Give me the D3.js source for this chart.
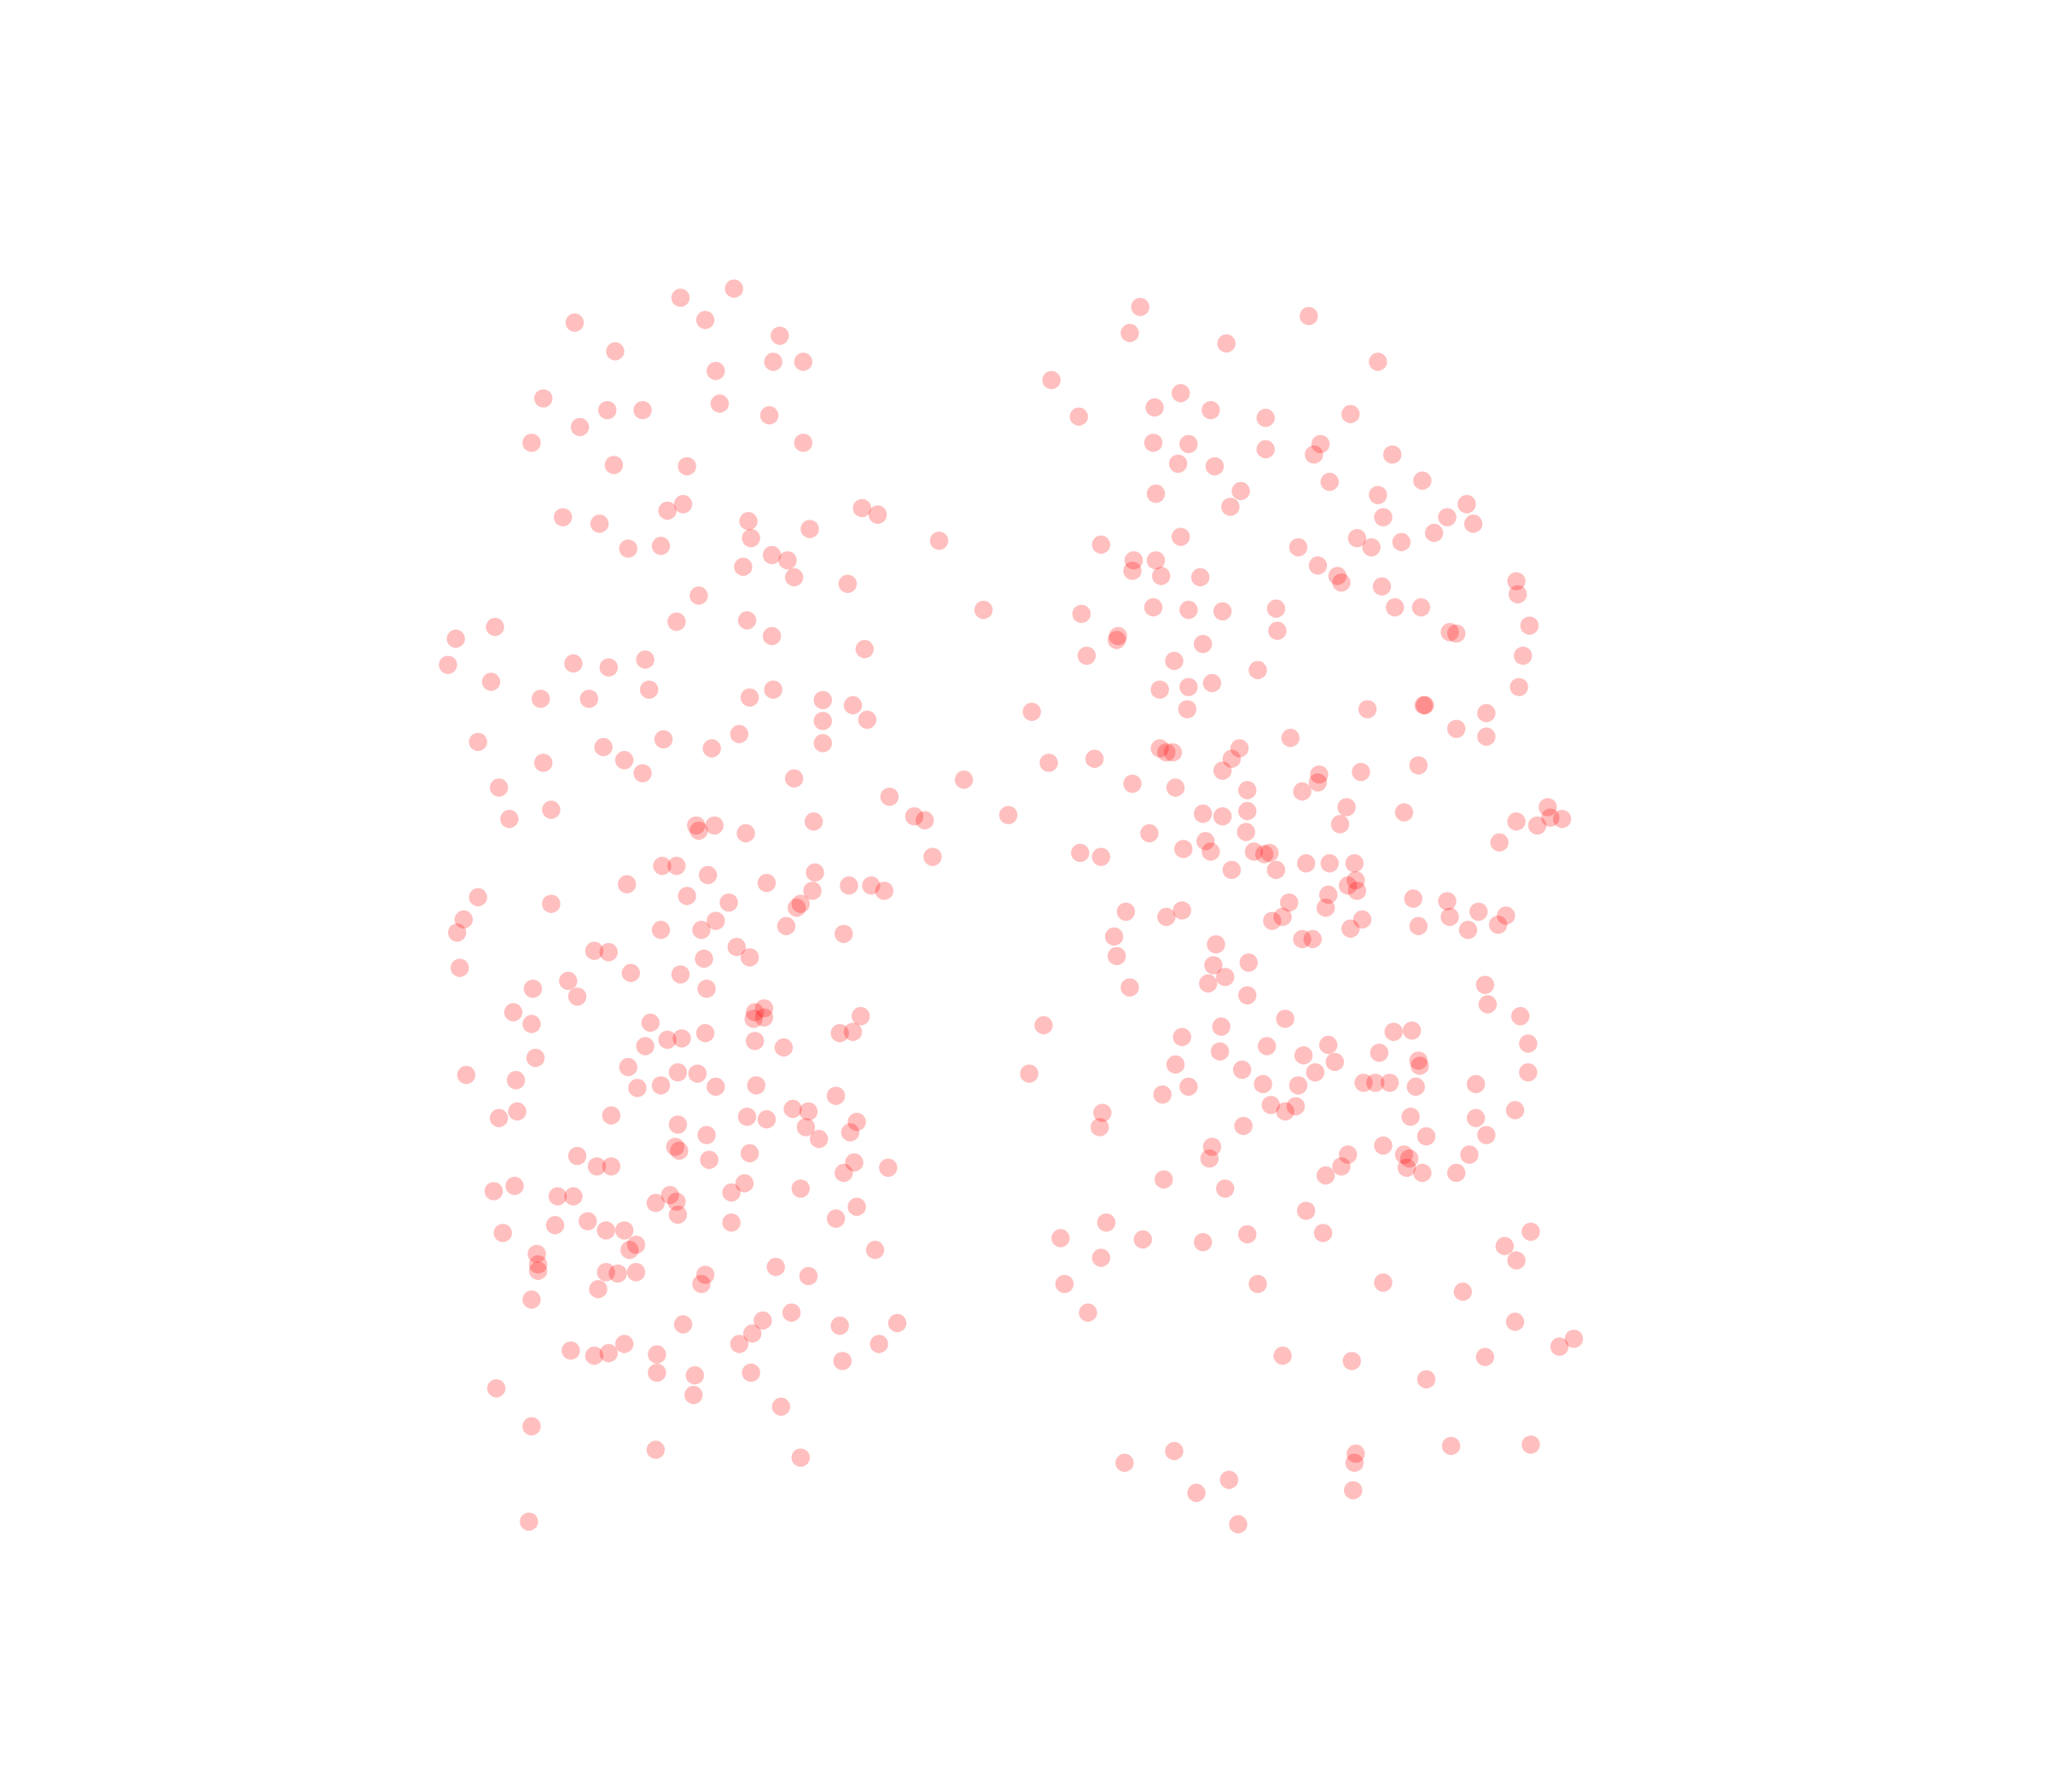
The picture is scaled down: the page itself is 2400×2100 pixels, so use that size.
<!DOCTYPE html>
<html>
<head>
<meta charset="utf-8">
<script src="https://cdn.jsdelivr.net/npm/d3@7"></script>
<style>html,body{margin:0;padding:0;background:#fff}svg{display:block}</style>
</head>
<body>
<script>
const leftGroup = [[440,247],[521,228],[562,221],[540,245],[597,257],[471,269],[592,277],[615,277],[548,284],[416,305],[465,314],[492,314],[551,309],[589,318],[444,327],[407,339],[615,339],[470,356],[526,357],[431,396],[459,401],[511,391],[523,386],[573,399],[575,412],[620,405],[660,389],[672,394],[719,414],[481,420],[506,418],[591,425],[603,429],[569,434],[608,442],[649,447],[535,456],[753,467],[518,476],[572,475],[591,487],[379,480],[349,489],[662,497],[343,509],[439,508],[466,511],[494,505],[376,522],[497,528],[414,535],[451,535],[574,534],[592,528],[630,536],[653,540],[630,552],[664,551],[566,562],[508,566],[366,568],[462,572],[545,573],[630,569],[478,582],[416,584],[492,592],[608,596],[738,597],[382,603],[681,610],[422,620],[390,627],[700,625],[708,628],[772,624],[623,629],[533,632],[547,632],[535,636],[571,638],[714,656],[507,663],[518,663],[542,670],[624,668],[480,677],[587,676],[650,678],[667,678],[677,682],[622,682],[526,686],[558,691],[366,687],[422,692],[613,692],[610,695],[355,704],[350,714],[548,705],[602,709],[537,712],[506,712],[646,715],[455,728],[466,729],[564,725],[574,733],[539,734],[352,741],[483,745],[521,746],[435,751],[408,757],[442,763],[541,757],[393,775],[407,784],[578,775],[585,772],[577,780],[585,779],[659,778],[498,783],[511,796],[522,795],[494,801],[540,791],[578,797],[600,802],[643,791],[653,790],[410,810],[481,817],[519,821],[534,822],[357,823],[395,827],[488,833],[506,831],[548,832],[579,831],[640,839],[396,851],[382,856],[468,854],[519,861],[572,855],[587,857],[607,849],[619,851],[617,863],[656,859],[651,867],[627,872],[541,869],[517,878],[520,881],[442,885],[457,893],[468,893],[543,888],[574,883],[654,890],[680,894],[646,898],[570,906],[613,910],[378,912],[394,908],[427,916],[439,916],[513,915],[502,921],[518,920],[560,913],[519,930],[656,924],[640,933],[425,938],[450,935],[464,942],[478,942],[560,936],[385,944],[487,953],[482,957],[411,960],[670,957],[412,968],[412,973],[464,974],[473,975],[487,974],[594,970],[540,976],[537,983],[619,977],[458,987],[407,995],[606,1005],[584,1011],[523,1014],[643,1015],[687,1013],[576,1021],[566,1029],[478,1029],[673,1029],[437,1034],[455,1038],[466,1036],[503,1037],[645,1042],[503,1051],[532,1053],[575,1051],[380,1063],[531,1068],[598,1077],[407,1092],[502,1110],[613,1116],[405,1165]];
const rightGroup = [[873,235],[1002,242],[865,255],[939,263],[1055,277],[805,291],[904,301],[884,312],[927,314],[826,319],[969,320],[1034,317],[883,339],[910,340],[1011,340],[969,344],[1006,348],[1066,348],[902,355],[930,357],[1018,369],[1089,368],[885,378],[950,376],[942,388],[1055,379],[1123,386],[1059,396],[1108,396],[1128,401],[1098,408],[904,411],[1039,412],[1073,415],[843,417],[994,419],[1050,419],[868,429],[885,429],[867,437],[889,441],[1009,433],[919,442],[1024,441],[1027,446],[1058,449],[1161,445],[1162,455],[883,465],[910,467],[936,468],[977,466],[1068,465],[1088,465],[828,470],[978,483],[1171,479],[1110,484],[1115,485],[856,487],[855,490],[921,493],[832,502],[899,506],[1166,502],[963,513],[888,528],[910,526],[928,523],[1163,526],[909,543],[1047,543],[1091,540],[1090,540],[1138,546],[790,545],[1115,558],[1138,564],[988,565],[888,573],[893,576],[898,576],[949,573],[943,581],[838,581],[803,584],[936,590],[1086,586],[1042,591],[1010,593],[1009,599],[867,600],[900,603],[955,605],[997,606],[1031,618],[921,623],[936,625],[955,621],[1075,622],[1185,618],[1187,626],[1196,627],[1177,632],[1161,629],[1026,631],[954,637],[880,638],[923,644],[1148,645],[906,650],[927,652],[960,652],[968,654],[972,653],[827,653],[843,656],[1000,661],[1018,661],[1037,661],[977,666],[943,666],[1038,674],[1032,678],[1039,682],[1017,685],[1082,688],[1108,690],[987,691],[1015,695],[905,697],[862,698],[893,702],[982,702],[974,705],[1043,704],[1132,698],[1110,702],[1153,701],[1086,709],[1147,708],[1124,712],[1034,711],[853,717],[997,719],[1005,719],[931,723],[855,732],[929,739],[956,737],[938,748],[925,753],[865,756],[1137,754],[955,762],[1139,769],[984,780],[1164,778],[799,785],[935,786],[1067,790],[1081,789],[905,794],[970,801],[1017,800],[1170,799],[934,805],[998,808],[1056,806],[1086,812],[1087,816],[1022,813],[900,815],[951,819],[1007,821],[788,822],[1170,821],[967,830],[994,831],[1044,829],[1053,829],[1064,829],[1084,832],[1130,830],[910,832],[890,838],[973,846],[992,847],[984,851],[1160,850],[844,852],[1080,855],[1130,856],[952,862],[842,863],[1092,870],[1138,869],[928,878],[1059,877],[926,887],[1032,884],[1075,884],[1079,887],[1125,884],[1027,893],[1077,894],[1089,898],[1115,898],[1015,900],[891,903],[938,910],[1000,927],[847,936],[1172,943],[955,945],[1013,944],[812,948],[875,949],[921,951],[1152,954],[843,963],[1161,965],[815,983],[963,983],[1059,982],[1120,989],[833,1005],[1160,1012],[1205,1025],[1194,1031],[982,1038],[1137,1039],[1035,1042],[1092,1056],[899,1111],[1172,1106],[1111,1107],[1038,1113],[1037,1120],[861,1120],[941,1133],[916,1143],[1036,1141],[948,1167]];

const width = 2400, height = 2100;
const x = d3.scaleLinear().domain([0, 1568]).range([0, width]);
const y = d3.scaleLinear().domain([0, 1372]).range([0, height]);

const svg = d3.select("body").append("svg")
  .attr("width", width).attr("height", height)
  .attr("viewBox", `0 0 ${width} ${height}`);

svg.append("g")
  .selectAll("circle")
  .data(leftGroup.concat(rightGroup))
  .join("circle")
  .attr("cx", d => x(d[0]))
  .attr("cy", d => y(d[1]))
  .attr("r", 10.7)
  .attr("fill", "red")
  .attr("fill-opacity", 0.25);
</script>
</body>
</html>
